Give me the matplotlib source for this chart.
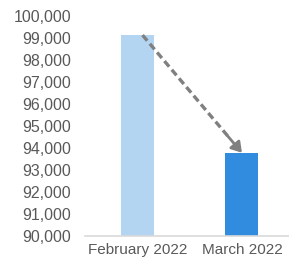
import matplotlib.pyplot as plt
import numpy as np

months = ["February 2022", "March 2022"]
values = [99130, 93780]
bar_colors = ["#b4d5f2", "#318ce0"]

plt.rcParams["font.family"] = ["Liberation Sans", "DejaVu Sans"]

fig = plt.figure(figsize=(2.89, 2.66), dpi=100)
ax = fig.add_axes([0.294, 0.113, 0.706, 0.827])

x = np.arange(len(months))
ax.bar(x, values, width=0.315, color=bar_colors, zorder=2)

ax.set_ylim(90000, 100000)
ax.set_xlim(-0.5, 1.45)
ax.set_yticks(np.arange(90000, 100001, 1000))
ax.set_yticklabels([f"{v:,}" for v in range(90000, 100001, 1000)])
ax.set_xticks(x)
ax.set_xticklabels(months)

for s in ["top", "right", "left"]:
    ax.spines[s].set_visible(False)
ax.spines["bottom"].set_color("#d9d9d9")
ax.spines["bottom"].set_linewidth(1.2)
ax.tick_params(axis="both", length=0, colors="#595959")
ax.tick_params(axis="x", pad=5, labelsize=11)
ax.tick_params(axis="y", pad=10, labelsize=11.5)

# dashed arrow from Feb bar top to Mar bar top
x0, y0 = 0.05, values[0]
x1, y1 = 1.0, values[1]
t = 0.88
xm, ym = x0 + (x1 - x0) * t, y0 + (y1 - y0) * t
ax.plot([x0, xm], [y0, ym], color="#808080", lw=2.4, ls=(0, (2.2, 1.2)), zorder=3)
ax.annotate("", xy=(x1, y1), xytext=(xm - 0.02, ym + 110),
            arrowprops=dict(arrowstyle="-|>,head_length=0.6,head_width=0.38",
                            color="#808080", lw=2.0, shrinkA=0, shrinkB=0),
            zorder=3)

fig.savefig("out.png", dpi=100)
